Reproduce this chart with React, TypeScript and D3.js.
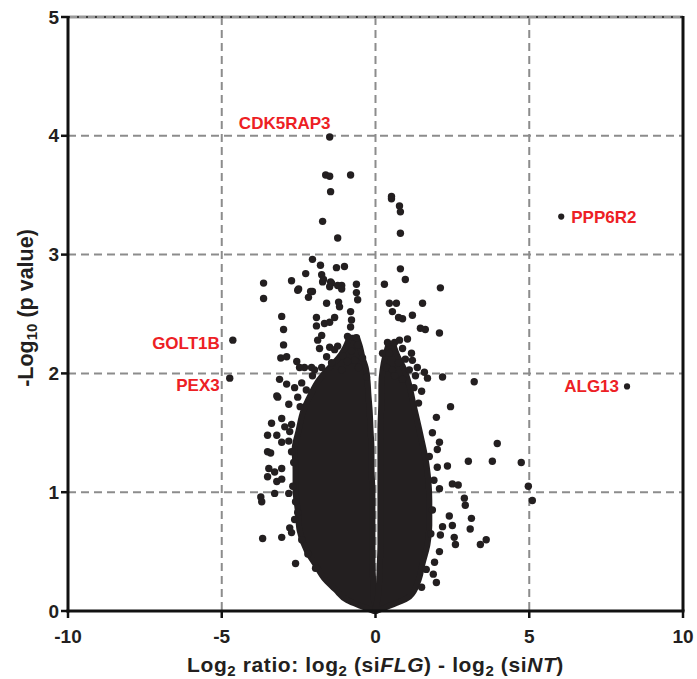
import React from "react";
import * as d3 from "d3";

// axis ticks
const xTicks = [-10, -5, 0, 5, 10];
const yTicks = [0, 1, 2, 3, 4, 5];
const xGrid = [-5, 0, 5];
const yGrid = [1, 2, 3, 4];

// dense core of the volcano, traced as outlines (y level, left / right x)
const leftLevels = [0, 0.04, 0.09, 0.18, 0.26, 0.39, 0.51, 0.68, 0.85, 1.02, 1.19, 1.36, 1.52, 1.69, 1.82, 1.94, 2.05, 2.13, 2.22, 2.3];
const leftOuter = [-0.06, -0.45, -0.91, -1.3, -1.62, -1.95, -2.24, -2.47, -2.53, -2.6, -2.6, -2.63, -2.5, -2.34, -2.11, -1.85, -1.49, -1.2, -0.98, -0.85];
const leftInner = [0, 0, -0.05, -0.08, -0.08, -0.1, -0.1, -0.1, -0.1, -0.1, -0.13, -0.13, -0.16, -0.19, -0.23, -0.26, -0.32, -0.42, -0.5, -0.6];
const rightLevels = [0, 0.05, 0.12, 0.26, 0.4, 0.56, 0.72, 0.93, 1.23, 1.52, 1.78, 1.9, 2.03, 2.15, 2.24];
const rightInner = [0, 0.03, 0.08, 0.12, 0.14, 0.16, 0.16, 0.16, 0.16, 0.16, 0.19, 0.19, 0.23, 0.32, 0.42];
const rightOuter = [0.03, 0.52, 1.1, 1.4, 1.53, 1.69, 1.75, 1.75, 1.66, 1.43, 1.2, 1.1, 0.94, 0.71, 0.58];

// scattered proteins outside the core [log2 ratio, -log10 p]
const scatterLeft = [
  [-1.62, 3.67], [-1.49, 3.66], [-0.81, 3.67], [-1.46, 3.53], [-1.72, 3.28], [-1.23, 3.14],
  [-2.05, 2.96], [-1.79, 2.91], [-1.27, 2.89], [-1.01, 2.9], [-2.27, 2.84], [-1.75, 2.83],
  [-1.72, 2.77], [-1.69, 2.79], [-1.46, 2.77], [-1.43, 2.76], [-1.49, 2.73], [-2.73, 2.78],
  [-3.64, 2.76], [-3.64, 2.63], [-2.53, 2.7], [-2.5, 2.71], [-2.05, 2.69], [-2.11, 2.69],
  [-2.18, 2.64], [-1.1, 2.74], [-1.23, 2.74], [-1.1, 2.71], [-0.62, 2.75], [-0.62, 2.68],
  [-0.58, 2.62], [-1.2, 2.6], [-1.17, 2.56], [-1.59, 2.59], [-3.05, 2.48], [-1.92, 2.47],
  [-1.92, 2.4], [-1.66, 2.42], [-1.49, 2.43], [-1.33, 2.47], [-0.81, 2.52], [-0.78, 2.45],
  [-0.81, 2.39], [-2.99, 2.37], [-2.99, 2.24], [-0.91, 2.31], [-0.62, 2.3], [-0.58, 2.24],
  [-1.88, 2.28], [-1.75, 2.32], [-1.82, 2.21], [-1.49, 2.22], [-1.33, 2.2], [-1.23, 2.23],
  [-1.07, 2.15], [-3.08, 2.13], [-2.89, 2.14], [-2.56, 2.1], [-2.31, 2.05], [-2.08, 2.05],
  [-2.47, 2.05], [-1.98, 2.03], [-0.68, 2.11], [-1.59, 2.14], [-1.43, 2.09], [-1.1, 2.03],
  [-0.91, 2.1], [-0.78, 2.19], [-0.55, 2.05], [-0.42, 2.13], [-0.29, 1.97], [-3.12, 1.95],
  [-2.89, 1.91], [-2.63, 1.88], [-2.4, 1.92], [-3.21, 1.81], [-3.18, 1.8], [-2.82, 1.74],
  [-2.53, 1.8], [-3.38, 1.58], [-3.05, 1.62], [-3.51, 1.48], [-3.21, 1.48], [-2.95, 1.55],
  [-2.79, 1.51], [-2.73, 1.57], [-3.05, 1.42], [-2.82, 1.43], [-3.51, 1.34], [-3.41, 1.33],
  [-2.73, 1.34], [-3.47, 1.2], [-3.28, 1.17], [-3.05, 1.2], [-3.51, 1.13], [-3.21, 1.09],
  [-3.05, 1.11], [-3.28, 0.99], [-2.82, 0.99], [-3.73, 0.96], [-3.7, 0.92], [-2.53, 0.83],
  [-2.63, 0.77], [-2.79, 0.7], [-2.73, 0.66], [-3.67, 0.61], [-3.05, 0.62], [-2.6, 0.4],
  [-1.95, 0.36], [-2.66, 1.25], [-2.69, 1.05], [-2.6, 0.92], [-2.4, 0.6], [-2.2, 0.48],
  [-2.45, 1.72], [-2.25, 1.86], [-2.05, 1.98], [-1.75, 2.05],
];
const scatterRight = [
  [0.52, 3.49], [0.52, 3.47], [0.78, 3.41], [0.81, 3.36], [0.81, 3.18], [0.81, 2.88],
  [0.97, 2.79], [0.29, 2.75], [2.11, 2.72], [0.45, 2.59], [0.68, 2.59], [1.53, 2.59],
  [0.55, 2.52], [0.75, 2.47], [0.88, 2.46], [1.2, 2.49], [1.46, 2.38], [1.62, 2.37],
  [2.08, 2.34], [0.39, 2.26], [0.62, 2.26], [0.78, 2.28], [1.04, 2.29], [0.88, 2.21],
  [1.17, 2.17], [0.23, 2.17], [0.45, 2.17], [1.2, 2.11], [1.36, 2.05], [1.59, 2.01],
  [1.69, 1.96], [2.18, 1.97], [3.21, 1.93], [0.36, 2.05], [0.55, 2.03], [0.75, 2.09],
  [0.97, 2.12], [1.1, 2.03], [1.3, 1.98], [0.62, 1.98], [0.88, 1.95], [2.44, 1.72],
  [1.98, 1.63], [1.85, 1.5], [2.08, 1.42], [2.01, 1.36], [3.96, 1.41], [3.02, 1.26],
  [3.8, 1.26], [4.74, 1.25], [2.34, 1.22], [2.01, 1.21], [2.5, 1.07], [2.69, 1.06],
  [2.08, 1.03], [4.97, 1.05], [5.1, 0.93], [2.89, 0.95], [2.92, 0.89], [3.12, 0.78],
  [3.08, 0.69], [2.4, 0.8], [2.5, 0.72], [2.56, 0.62], [2.6, 0.56], [2.18, 0.71],
  [2.11, 0.64], [3.6, 0.6], [3.41, 0.56], [2.08, 0.5], [1.92, 0.41], [1.88, 0.31],
  [1.98, 0.24], [1.5, 1.85], [1.4, 1.75], [1.75, 1.3], [1.9, 1.1], [1.85, 0.85],
  [1.8, 0.65], [1.65, 0.35], [1.5, 0.2], [1.25, 1.88],
];

// labelled hits
const geneNames = ["CDK5RAP3", "PPP6R2", "GOLT1B", "PEX3", "ALG13"];
const geneX = [-1.49, 6.04, -4.64, -4.74, 8.18];
const geneY = [3.99, 3.32, 2.28, 1.96, 1.89];

const W = 697;
const H = 679;
const m = { left: 68, right: 683, top: 17, bottom: 611 };
const font = "'Liberation Sans', Arial, sans-serif";
const dotColor = "#231f20";
const red = "#ed2024";

export default function App() {
  const x = d3.scaleLinear().domain([-10, 10]).range([m.left, m.right]);
  const y = d3.scaleLinear().domain([0, 5]).range([m.bottom, m.top]);

  const lobe = (levels: number[], x0: number[], x1: number[]) =>
    d3
      .area<number>()
      .y((d) => y(d))
      .x0((d, i) => x(x0[i]))
      .x1((d, i) => x(x1[i]))
      .curve(d3.curveMonotoneY)(levels) || "";

  // placement of the red gene labels
  const labelPos: Record<string, { dx: number; dy: number; anchor: string }> = {
    CDK5RAP3: { dx: -45, dy: -8, anchor: "middle" },
    PPP6R2: { dx: 10, dy: 6, anchor: "start" },
    GOLT1B: { dx: -13, dy: 9, anchor: "end" },
    PEX3: { dx: -10, dy: 13, anchor: "end" },
    ALG13: { dx: -8, dy: 6, anchor: "end" },
  };

  return (
    <svg width={W} height={H} style={{ position: "absolute", left: 0, top: 0, background: "#fff" }}>
      {/* grid */}
      {xGrid.map((v) => (
        <line key={"gx" + v} x1={x(v)} x2={x(v)} y1={m.top} y2={m.bottom}
          stroke="#8c8c8c" strokeWidth={2} strokeDasharray="8,5" />
      ))}
      {yGrid.map((v) => (
        <line key={"gy" + v} x1={m.left} x2={m.right} y1={y(v)} y2={y(v)}
          stroke="#8c8c8c" strokeWidth={2} strokeDasharray="8,5" />
      ))}
      {/* top edge */}
      <line x1={m.left} x2={m.right} y1={y(5)} y2={y(5)} stroke="#999" strokeWidth={3} />
      <line x1={m.left} x2={m.right} y1={y(5)} y2={y(5)} stroke="#222" strokeWidth={1.5} strokeDasharray="2,7" />
      {/* right edge */}
      <line x1={m.right} x2={m.right} y1={m.top - 1} y2={m.bottom} stroke="#111" strokeWidth={3} />

      {/* core */}
      <path d={lobe(leftLevels, leftOuter, leftInner)} fill={dotColor} stroke={dotColor} strokeWidth={6} strokeLinejoin="round" />
      <path d={lobe(rightLevels, rightInner, rightOuter)} fill={dotColor} stroke={dotColor} strokeWidth={6} strokeLinejoin="round" />

      {/* scatter */}
      {scatterLeft.concat(scatterRight).map((d, i) => (
        <circle key={"p" + i} cx={x(d[0])} cy={y(d[1])} r={3.7} fill={dotColor} />
      ))}
      {geneNames.map((g, i) => {
        const p = labelPos[g];
        const big = g === "CDK5RAP3" || g === "GOLT1B" || g === "PEX3";
        return (
          <g key={g}>
            <circle cx={x(geneX[i])} cy={y(geneY[i])} r={big ? 3.7 : 3.1} fill={dotColor} />
            <text x={x(geneX[i]) + p.dx} y={y(geneY[i]) + p.dy} textAnchor={p.anchor}
              fill={red} fontFamily={font} fontWeight="bold" fontSize={17}>
              {g}
            </text>
          </g>
        );
      })}

      {/* axes */}
      <line x1={m.left} x2={m.left} y1={m.top - 1} y2={m.bottom + 1.5} stroke="#111" strokeWidth={3} />
      <line x1={m.left - 1.5} x2={m.right + 1.5} y1={m.bottom} y2={m.bottom} stroke="#111" strokeWidth={3} />
      {yTicks.map((v) => (
        <g key={"yt" + v}>
          <line x1={m.left - 7} x2={m.left} y1={y(v)} y2={y(v)} stroke="#111" strokeWidth={2.5} />
          <text x={m.left - 9} y={y(v)} dy="0.35em" textAnchor="end" fontFamily={font}
            fontWeight="bold" fontSize={19} fill="#231f20">{v}</text>
        </g>
      ))}
      {xTicks.map((v) => (
        <g key={"xt" + v}>
          <line x1={x(v)} x2={x(v)} y1={m.bottom} y2={m.bottom + 7} stroke="#111" strokeWidth={2.5} />
          <text x={x(v)} y={m.bottom + 32} textAnchor="middle" fontFamily={font}
            fontWeight="bold" fontSize={19} fill="#231f20">{v}</text>
        </g>
      ))}

      {/* axis titles */}
      <text x={(m.left + m.right) / 2} y={672} textAnchor="middle" fontFamily={font}
        fontWeight="bold" fontSize={21} letterSpacing={0.6} fill="#231f20">
        Log<tspan fontSize={15} dy={4}>2</tspan>
        <tspan dy={-4}> ratio: log</tspan><tspan fontSize={15} dy={4}>2</tspan>
        <tspan dy={-4}> (si</tspan><tspan fontStyle="italic">FLG</tspan>
        <tspan>) - log</tspan><tspan fontSize={15} dy={4}>2</tspan>
        <tspan dy={-4}> (si</tspan><tspan fontStyle="italic">NT</tspan><tspan>)</tspan>
      </text>
      <text transform="translate(33, 308) rotate(-90)" textAnchor="middle" fontFamily={font}
        fontWeight="bold" fontSize={21.5} fill="#231f20">
        -Log<tspan fontSize={15} dy={4}>10</tspan><tspan dy={-4}> (p value)</tspan>
      </text>
    </svg>
  );
}
